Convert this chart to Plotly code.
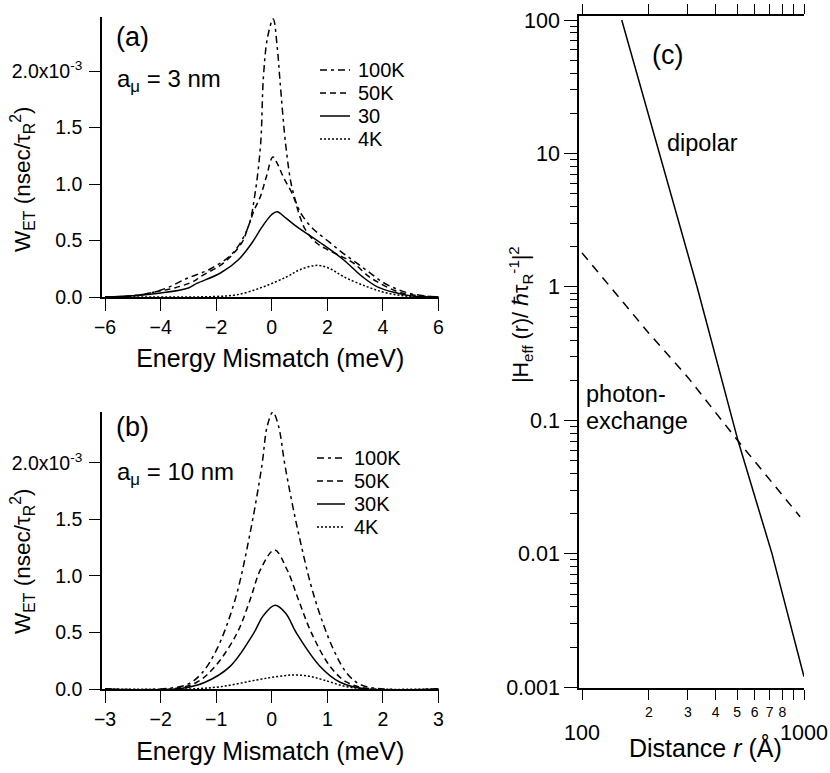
import plotly.graph_objects as go

# ---------------- data ----------------
# Panel (a): a_mu = 3 nm, W_ET in units of 1e-3 nsec/tau_R^2
a_100K_E = [-6, -5, -4, -3, -2.2, -1.4, -0.85, -0.6, -0.4, -0.3, -0.15, 0.05, 0.2, 0.3, 0.5, 0.7, 0.9, 1.1, 1.5, 2.0, 2.5, 3.0, 3.5, 4.0, 4.5, 5.0, 5.5, 6]
a_100K_W = [0, 0.01, 0.06, 0.17, 0.25, 0.39, 0.62, 0.92, 1.36, 1.95, 2.3, 2.46, 2.2, 1.9, 1.35, 1.0, 0.82, 0.72, 0.6, 0.5, 0.4, 0.31, 0.22, 0.13, 0.07, 0.03, 0.01, 0]

a_50K_E = [-6, -5, -4.1, -3.5, -2.8, -2.57, -1.74, -1.08, -0.85, -0.63, -0.41, -0.2, 0.04, 0.2, 0.42, 0.78, 1.0, 1.2, 1.6, 2.0, 2.5, 2.94, 3.5, 3.9, 4.5, 5.0, 6]
a_50K_W = [0, 0.01, 0.05, 0.08, 0.14, 0.18, 0.30, 0.48, 0.62, 0.77, 0.89, 1.06, 1.24, 1.18, 1.06, 0.89, 0.72, 0.6, 0.48, 0.42, 0.36, 0.3, 0.18, 0.12, 0.05, 0.02, 0]

a_30_E = [-6, -5, -4, -3, -2.7, -1.86, -1.2, -0.71, -0.35, 0.0, 0.19, 0.5, 0.91, 1.75, 2.58, 3.26, 3.8, 4.5, 5.0, 6]
a_30_W = [0, 0.01, 0.035, 0.08, 0.12, 0.21, 0.33, 0.48, 0.62, 0.73, 0.755, 0.7, 0.62, 0.48, 0.33, 0.18, 0.09, 0.035, 0.01, 0]

a_4K_E = [-6, -3, -2, -1.25, -0.3, 0.55, 1.0, 1.63, 2.1, 2.58, 3.44, 4.15, 5.0, 6]
a_4K_W = [0, 0, 0.005, 0.02, 0.09, 0.18, 0.24, 0.28, 0.25, 0.18, 0.09, 0.035, 0.005, 0]

# Panel (b): a_mu = 10 nm
b_100K_E = [-3, -2, -1.52, -1.26, -0.99, -0.66, -0.39, -0.18, -0.08, 0.02, 0.12, 0.24, 0.48, 0.78, 1.11, 1.35, 1.59, 2, 3]
b_100K_W = [0, 0, 0.04, 0.14, 0.35, 0.79, 1.38, 1.97, 2.33, 2.45, 2.33, 1.97, 1.38, 0.79, 0.35, 0.14, 0.04, 0, 0]

b_50K_E = [-3, -1.8, -1.35, -1.02, -0.63, -0.39, -0.2, 0.05, 0.28, 0.48, 0.72, 1.05, 1.35, 1.8, 3]
b_50K_W = [0, 0, 0.06, 0.2, 0.49, 0.79, 1.06, 1.23, 1.05, 0.79, 0.49, 0.2, 0.06, 0, 0]

b_30K_E = [-3, -1.7, -1.2, -0.75, -0.33, -0.15, 0.06, 0.25, 0.45, 0.87, 1.23, 1.7, 3]
b_30K_W = [0, 0, 0.06, 0.2, 0.49, 0.65, 0.74, 0.67, 0.49, 0.2, 0.06, 0, 0]

b_4K_E = [-3, -1.5, -0.93, -0.27, 0.1, 0.39, 0.65, 0.93, 1.35, 1.8, 3]
b_4K_W = [0, 0, 0.02, 0.08, 0.11, 0.124, 0.115, 0.08, 0.02, 0, 0]

# Panel (c): |H_eff(r)/hbar tau_R^-1|^2 vs distance r (Angstrom)
c_dipolar_r = [151, 224, 330, 505, 718, 1000]
c_dipolar_H = [100, 10, 1, 0.07, 0.01, 0.0012]
c_photon_r = [100, 200, 300, 505, 960]
c_photon_H = [1.8, 0.45, 0.21, 0.07, 0.019]

legend_a = ["100K", "50K", "30", "4K"]
legend_b = ["100K", "50K", "30K", "4K"]

a_yticks = [0, 0.5, 1.0, 1.5, 2.0]
a_yticktext = ["0.0", "0.5", "1.0", "1.5", "2.0x10<sup>-3</sup>"]
a_xticks = [-6, -4, -2, 0, 2, 4, 6]
b_xticks = [-3, -2, -1, 0, 1, 2, 3]
c_xticks_small = [200, 300, 400, 500, 600, 700, 800]
c_xticktext_small = ["2", "3", "4", "5", "6", "7", "8"]
c_xticks_other = [100, 900, 1000]
c_xticks_big = [100, 1000]
c_xticktext_big = ["100", "1000"]
c_yticks = [0.001, 0.01, 0.1, 1, 10, 100]
c_yticktext = ["0.001", "0.01", "0.1", "1", "10", "100"]

# ---------------- styling ----------------
FW, FH = 830, 773
FONT = "Liberation Sans, Arial, Helvetica, sans-serif"
DASHES = {"100K": "7px,4px,3px,4px", "50K": "6px,4px", "30": "solid", "30K": "solid", "4K": "2px,2px"}
LW = 1.5


def px(x):
    return x / FW


def py(y):
    return 1 - y / FH


fig = go.Figure()

a_series = [(a_100K_E, a_100K_W), (a_50K_E, a_50K_W), (a_30_E, a_30_W), (a_4K_E, a_4K_W)]
b_series = [(b_100K_E, b_100K_W), (b_50K_E, b_50K_W), (b_30K_E, b_30K_W), (b_4K_E, b_4K_W)]

for name, (e, w) in zip(legend_a, a_series):
    fig.add_trace(go.Scatter(x=e, y=w, mode="lines", name=name, xaxis="x", yaxis="y",
                             line=dict(color="black", width=LW, dash=DASHES[name]),
                             showlegend=False, line_shape="spline"))
for name, (e, w) in zip(legend_b, b_series):
    fig.add_trace(go.Scatter(x=e, y=w, mode="lines", name=name, xaxis="x2", yaxis="y2",
                             line=dict(color="black", width=LW, dash=DASHES[name]),
                             showlegend=False, line_shape="spline"))

fig.add_trace(go.Scatter(x=c_dipolar_r, y=c_dipolar_H, mode="lines", name="dipolar",
                         xaxis="x3", yaxis="y3", line=dict(color="black", width=LW), showlegend=False))
fig.add_trace(go.Scatter(x=c_photon_r, y=c_photon_H, mode="lines", name="photon-exchange",
                         xaxis="x3", yaxis="y3", line=dict(color="black", width=LW, dash="9px,7px"),
                         showlegend=False))

axis_common = dict(showgrid=False, zeroline=False, showline=True, linecolor="black", linewidth=1.5,
                   ticks="outside", tickcolor="black", tickwidth=1.3, color="black", automargin=False)

fig.update_layout(
    template="none",
    width=FW, height=FH, margin=dict(l=0, r=0, t=0, b=0, pad=0),
    paper_bgcolor="white", plot_bgcolor="white",
    font=dict(family=FONT, color="black"),
    hovermode="closest",
    xaxis=dict(axis_common, domain=[px(102), px(438.5)], range=[-6.11, 6], anchor="y",
               tickvals=a_xticks, ticklen=12, tickfont=dict(size=19.5),
               title=dict(text="Energy Mismatch (meV)", font=dict(size=25), standoff=12)),
    yaxis=dict(axis_common, domain=[py(297), py(17)], range=[0, 2.478], anchor="x",
               tickvals=a_yticks, ticktext=a_yticktext, ticklen=11, tickfont=dict(size=19.5),
               ticklabelstandoff=3),
    xaxis2=dict(axis_common, domain=[px(102), px(438.5)], range=[-3.055, 3], anchor="y2",
                tickvals=b_xticks, ticklen=12, tickfont=dict(size=19.5),
                title=dict(text="Energy Mismatch (meV)", font=dict(size=25), standoff=13)),
    yaxis2=dict(axis_common, domain=[py(689), py(412)], range=[0, 2.451], anchor="x2",
                tickvals=a_yticks, ticktext=a_yticktext, ticklen=11, tickfont=dict(size=19.5),
                ticklabelstandoff=3),
    xaxis3=dict(axis_common, type="log", domain=[px(579), px(804)], range=[1.98649, 3.0], anchor="y3",
                tickvals=c_xticks_small, ticktext=c_xticktext_small, ticklen=10, mirror="ticks",
                tickfont=dict(size=14),
                minor=dict(tickvals=c_xticks_other, ticks="outside", ticklen=10,
                           tickcolor="black", tickwidth=1.3)),
    xaxis4=dict(type="log", overlaying="x3", anchor="y3", side="bottom", range=[1.98649, 3.0],
                tickvals=c_xticks_big, ticktext=c_xticktext_big, ticks="", showline=False,
                showgrid=False, zeroline=False, automargin=False, tickfont=dict(size=21.5),
                ticklabelstandoff=29),
    yaxis3=dict(axis_common, type="log", domain=[py(688), py(16)], range=[-3.005, 2.03], anchor="x3",
                tickvals=c_yticks, ticktext=c_yticktext, ticklen=13, tickfont=dict(size=21.5),
                minor=dict(tickvals=[m * 10 ** d for d in range(-3, 2) for m in range(2, 10)],
                           ticks="outside", ticklen=7, tickcolor="black", tickwidth=1.2)),
)

# invisible trace so the overlay axis (big 100 / 1000 labels) is drawn
fig.add_trace(go.Scatter(x=[100], y=[1], xaxis="x4", yaxis="y3", mode="markers",
                         marker=dict(opacity=0), showlegend=False, hoverinfo="skip"))

ann = []


def text(x, y, t, size, xanchor="left", angle=0):
    ann.append(dict(x=px(x), y=py(y), xref="paper", yref="paper", text=t, showarrow=False,
                    xanchor=xanchor, yanchor="middle", textangle=angle, borderpad=0,
                    font=dict(size=size, family=FONT, color="black")))


# panel labels and annotations
text(115, 37, "(a)", 27)
text(116, 80, "a<sub>μ</sub> = 3 nm", 24)
text(115, 427, "(b)", 27)
text(116, 473, "a<sub>μ</sub> = 10 nm", 24)
text(651, 55, "(c)", 27)
text(666, 143, "dipolar", 23.5)
text(585, 394, "photon-", 23.5)
text(585, 421, "exchange", 23.5)

# y-axis titles
text(22, 180, "W<sub>ET</sub> (nsec/τ<sub>R</sub><sup>2</sup>)", 22.5, xanchor="center", angle=-90)
text(22, 562, "W<sub>ET</sub> (nsec/τ<sub>R</sub><sup>2</sup>)", 22.5, xanchor="center", angle=-90)
text(520, 315, "|H<sub>eff</sub> (r)/ ℏτ<sub>R</sub><sup>-1</sup>|<sup>2</sup>", 21.5, xanchor="center", angle=-90)
text(705, 747, "Distance <i>r</i> (Å)", 25, xanchor="center")

# manual legends (text + key lines)
shapes = []
for names, x0, x1, xt, ys in [(legend_a, 320, 350, 357, [70, 93, 116, 139]),
                               (legend_b, 317, 345, 353, [458, 481, 504, 527])]:
    for n, yy in zip(names, ys):
        shapes.append(dict(type="line", xref="paper", yref="paper", x0=px(x0), x1=px(x1),
                           y0=py(yy), y1=py(yy),
                           line=dict(color="black", width=LW, dash=DASHES[n])))
        text(xt, yy, n, 20)

fig.update_layout(annotations=ann, shapes=shapes)
fig.write_html("out.html")
